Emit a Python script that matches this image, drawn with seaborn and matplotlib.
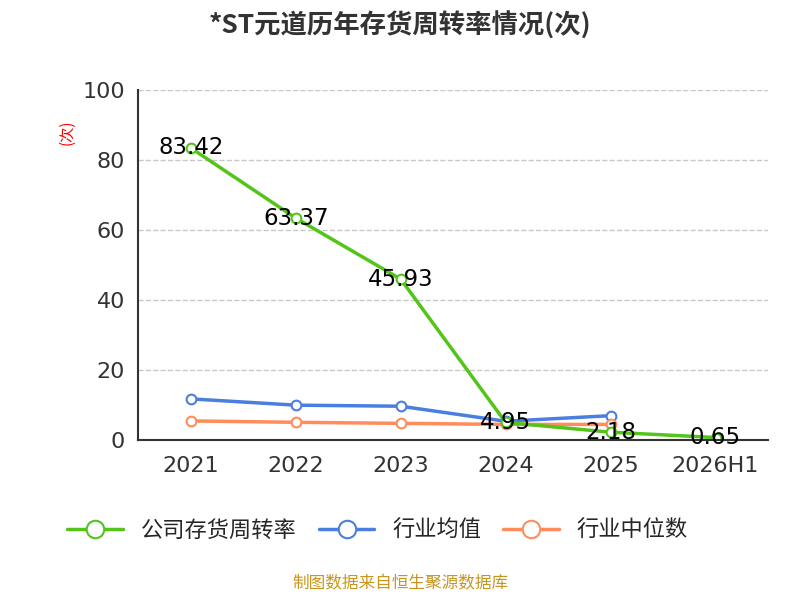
import matplotlib
matplotlib.use("Agg")
import matplotlib.pyplot as plt
import seaborn as sns
import numpy as np
import pandas as pd

years = ['2021', '2022', '2023', '2024', '2025', '2026H1']
company = [83.42, 63.37, 45.93, 4.95, 2.18, 0.65]
ind_mean = [11.7, 9.9, 9.6, 5.3, 6.9]
ind_median = [5.4, 5.0, 4.7, 4.4, 4.4]

sns.set_style("white")
plt.rcParams['font.family'] = ['Noto Sans CJK SC', 'DejaVu Sans']

fig = plt.figure(figsize=(8, 6), dpi=100)
ax = fig.add_axes([0.173, 0.267, 0.787, 0.583])

x = np.arange(len(years))
df_c = pd.DataFrame({'x': x, 'v': company})
df_m = pd.DataFrame({'x': x[:len(ind_mean)], 'v': ind_mean})
df_d = pd.DataFrame({'x': x[:len(ind_median)], 'v': ind_median})

green, blue, orange = '#52c41a', '#4a7fe0', '#ff8c5a'
for df, c, lab in [(df_m, blue, '行业均值'), (df_d, orange, '行业中位数'), (df_c, green, '公司存货周转率')]:
    sns.lineplot(data=df, x='x', y='v', ax=ax, color=c, lw=2.5, marker='o',
                 markersize=7, markerfacecolor='white', markeredgecolor=c,
                 markeredgewidth=1.5, label=lab)

for xi, v in zip(x, company):
    ax.text(xi, v, f'{v:.2f}', ha='center', va='center', fontsize=16.5, color='black',
            family='DejaVu Sans')

ax.set_xlim(-0.5, 5.5)
ax.set_ylim(0, 100)
ax.set_yticks(range(0, 101, 20))
ax.set_xticks(x)
ax.set_xticklabels(years)
ax.set_xticks(np.arange(-0.5, 5.6, 1), minor=True)
ax.tick_params(axis='x', which='major', length=0, labelsize=16, colors='#333333', pad=12)
ax.tick_params(axis='x', which='minor', length=6, color='#333333', width=1.5)
ax.tick_params(axis='y', length=6, width=1.5, color='#333333', labelsize=16, labelcolor='#333333')
for t in ax.get_xticklabels() + ax.get_yticklabels():
    t.set_family('DejaVu Sans')
ax.yaxis.grid(True, linestyle='--', color='#c8c8c8', lw=1)
for s in ['top', 'right']:
    ax.spines[s].set_visible(False)
for s in ['left', 'bottom']:
    ax.spines[s].set_color('#333333')
    ax.spines[s].set_linewidth(1.5)
ax.set_xlabel('')
ax.set_ylabel('(次)', color='red', fontsize=11)
ax.yaxis.set_label_coords(-0.1, 0.88)

handles, labels = ax.get_legend_handles_labels()
order = [2, 0, 1]
ax.legend([handles[i] for i in order], [labels[i] for i in order],
          loc='upper center', bbox_to_anchor=(0.38, -0.17), ncol=3, frameon=False,
          fontsize=16, markerscale=1.8, handlelength=2.5, columnspacing=1.0)

fig.suptitle('*ST元道历年存货周转率情况(次)', fontsize=19, fontweight='bold', y=0.98, color='#333333')
fig.text(0.5, 0.02, '制图数据来自恒生聚源数据库', ha='center', fontsize=12, color='#c8961e')

fig.savefig('out.png', dpi=100)
